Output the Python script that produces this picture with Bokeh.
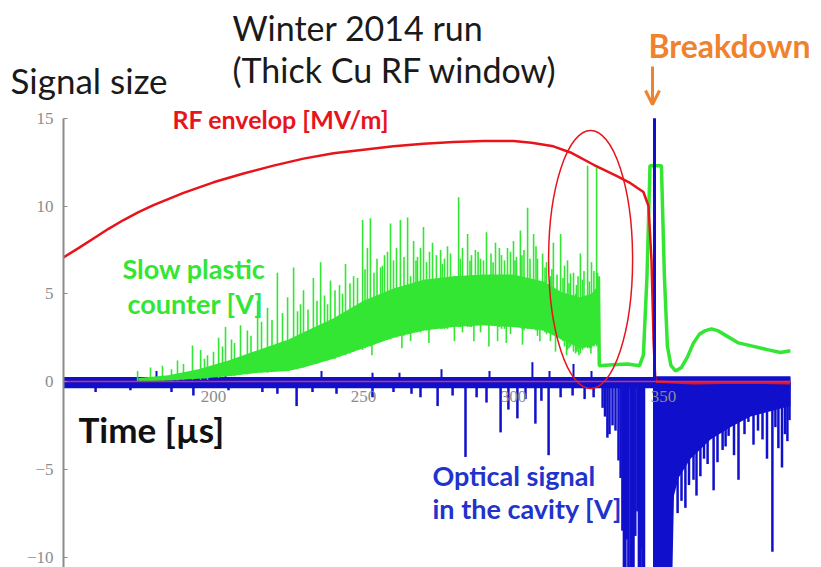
from bokeh.plotting import figure
from bokeh.models import Range1d, Label, Arrow, OpenHead, FixedTicker, LinearAxis
from bokeh.embed import file_html
from bokeh.resources import INLINE

# ---------------- data ----------------
# RF envelope [MV/m]
rf_t = [150, 155, 160, 165, 170, 175, 180, 190, 200, 210, 220, 230, 240, 250, 260,
        270, 280, 290, 300, 306, 313.3, 319, 326.7, 334, 339, 343.3, 345, 346,
        346.7, 347.3, 360, 375, 392.3]
rf_v = [7.07, 7.6, 8.15, 8.7, 9.2, 9.65, 10.05, 10.75, 11.35, 11.85, 12.3, 12.7,
        13.0, 13.2, 13.4, 13.55, 13.65, 13.7, 13.7, 13.6, 13.4, 13.05, 12.35, 11.75,
        11.3, 10.8, 10.0, 6.9, 2.3, 0.0, -0.1, -0.05, -0.1]

# Slow plastic counter [V]: dense core band
green_band_t = [175, 185, 195, 205, 215, 225, 230, 240, 250, 260, 270, 280, 290,
                300, 310, 316, 322, 326, 328.3]
green_band_lo = [0.0, 0.05, 0.15, 0.3, 0.5, 0.6, 0.8, 1.3, 1.9, 2.5, 2.9, 3.1, 3.2,
                 3.1, 2.9, 2.4, 1.9, 2.0, 2.2]
green_band_hi = [0.2, 0.35, 0.7, 1.2, 1.8, 2.4, 2.8, 3.6, 4.6, 5.3, 5.8, 6.0, 6.1,
                 6.1, 5.7, 5.1, 4.8, 5.0, 5.5]
# individual strokes (time, low, high)
green_stroke_t = [174.7, 179, 183, 186, 188, 190, 193, 195.7, 197, 198, 200, 201.7,
                  203, 204, 206, 207, 209, 211.3, 212.5, 214.7, 216, 218, 219.5,
                  221.3, 223, 224.7, 226.7, 228, 229, 230, 231.5, 233.3, 234.5,
                  235.7, 237, 238, 239, 240.5, 242, 243, 244, 245.5, 246.7, 248,
                  249.7, 250.5, 251.3, 252.3, 252.8, 253.5, 254.5, 255.7, 256.3, 257,
                  258, 259, 260, 261, 262.3, 262.8, 263.5, 264.7, 265.7, 266.7, 267.5,
                  268, 269, 270, 271, 271.8, 272, 273, 274.3, 275.7, 276.3, 277, 278,
                  279, 280.3, 281.7, 282.3, 283, 284.7, 285.5, 286, 286.8, 287.3,
                  288.2, 289, 290, 291, 291.8, 292.5, 293.2, 294, 294.7, 295.3, 296,
                  297, 297.6, 298, 299, 300, 300.5, 301, 302.3, 302.8, 303, 303.5,
                  304.7, 305.5, 306.7, 307.5, 308, 308.8, 309.7, 310.5, 311, 312.3,
                  312.8, 313.3, 314, 314.5, 315.7, 316.5, 317, 317.7, 318, 318.5, 319,
                  320, 320.7, 321, 321.5, 321.8, 322.3, 323, 323.5, 324.7, 325.3,
                  325.8, 326, 326.8, 327.7, 328]
green_stroke_lo = [0, 0, 0, 0.05, 0.05, 0.1, 0.1, 0.1, 0.15, 0.1, 0.25, 0.2,
                   0.3, 0.3, 0.3, 0.3, 0.4, 0.4, 0.45, 0.5, 0.5, 0.5, 0.55,
                   0.6, 0.6, 0.6, 0.7, 0.7, 0.8, 0.8, 0.9, 1.0, 1.0,
                   1.1, 1.2, 1.2, 1.3, 1.3, 1.4, 1.5, 1.5, 1.6, 1.7, 1.8,
                   1.8, 1.9, 2.0, 2.0, 1.5, 2.1, 2.2, 2.3, 2.3, 2.4,
                   2.4, 2.4, 2.5, 2.5, 2.6, 1.9, 2.6, 2.7, 2.3, 2.8, 2.8,
                   2.8, 2.8, 2.9, 2.9, 2.2, 2.9, 3.0, 3.0, 3.0, 3.0, 3.0, 3.0,
                   3.1, 2.3, 3.1, 3.1, 2.8, 3.1, 3.1, 3.1, 2.3, 3.2,
                   3.2, 2.8, 3.2, 3.2, 2.0, 3.2, 3.2, 3.2, 2.3, 3.1, 3.0,
                   3.0, 2.2, 3.2, 2.7, 3.1, 3.1, 3.1, 3.1, 3.0, 2.1, 2.9,
                   3.0, 3.0, 3.0, 2.9, 2.6, 2.3, 2.9, 2.8, 2.7, 2.3,
                   2.7, 2.7, 1.7, 2.5, 2.4, 2.3, 2.0, 1.5, 1.8, 1.9, 2.0,
                   1.7, 1.6, 1.7, 1.7, 1.5, 1.6, 1.8, 1.9, 1.9, 1.9,
                   1.6, 1.9, 2.0, 2.0, 2.1]
green_stroke_hi = [0.6, 0.8, 0.9, 0.7, 1.2, 1.0, 2.05, 1.8, 1.3, 1.5, 1.7, 2.5,
                   2.0, 3.1, 2.4, 2.2, 3.2, 2.9, 2.6, 4.6, 3.4, 4.2, 3.5,
                   6.2, 3.9, 4.8, 6.5, 4.0, 4.4, 5.2, 4.1, 5.9, 4.6,
                   6.8, 4.9, 4.4, 5.75, 5.2, 5.5, 5.0, 6.7, 5.6, 6.0, 5.9,
                   9.2, 6.4, 7.6, 9.3, 4.0, 6.2, 7.0, 6.5, 6.6, 7.2,
                   7.4, 9.0, 6.9, 7.6, 9.2, 4.5, 7.1, 9.35, 6.0, 8.0, 6.9,
                   7.1, 7.6, 8.8, 6.8, 5.0, 7.4, 7.9, 7.2, 7.5, 6.7, 7.0, 7.7,
                   7.3, 6.0, 10.5, 7.0, 7.6, 8.4, 6.9, 7.2, 5.0, 7.5,
                   7.4, 7.0, 6.9, 8.5, 4.8, 7.3, 6.8, 7.9, 6.0, 7.6, 7.2,
                   6.9, 5.0, 7.6, 7.4, 8.0, 6.9, 7.1, 8.6, 7.2, 5.0, 7.5,
                   9.9, 7.0, 8.4, 7.7, 7.0, 5.2, 7.3, 6.5, 6.8, 6.0,
                   6.4, 7.9, 4.5, 6.1, 8.4, 5.9, 6.6, 4.2, 6.9, 5.6, 6.15,
                   6.2, 5.0, 5.5, 6.0, 4.0, 7.3, 5.8, 6.3, 12.3, 5.7,
                   4.0, 6.8, 6.3, 12.2, 6.2]
# after the drop
green_tail_t = [328.3, 328.6, 333, 338, 342, 343.3, 344.5, 345.5, 349.3, 350.3, 351.3,
                352.5, 354, 356, 358, 360, 362, 364, 366, 368, 371, 375, 380, 385,
                389, 392.3]
green_tail_v = [6.0, 0.9, 0.95, 1.0, 0.9, 1.5, 6.0, 12.3, 12.3, 6.0, 2.0,
                0.9, 0.6, 0.8, 1.4, 2.2, 2.7, 2.9, 3.0, 2.9, 2.6, 2.2, 2.0, 1.8,
                1.65, 1.75]

# Optical signal in the cavity [V]
blue_base_t = [150, 392.3]
blue_base_lo = [-0.38, -0.38]
blue_base_hi = [0.25, 0.25]
blue_neg_t = [160.7, 172.3, 186, 193.3, 205, 216.3, 221.3, 227.7, 233, 241, 253, 260,
              266, 269, 274.7, 279.7, 284, 287.7, 291, 295.7, 298.3, 301.3, 304,
              307.3, 309.3, 311.7, 315.7, 319.7, 323.7, 326.7,
              329.7, 330.5, 331.3, 332, 333, 334, 335, 335.7, 336.3, 336.8, 337.3,
              337.8, 338.3, 339, 339.5, 340, 340.6, 341.3, 341.8, 342.3, 342.7, 343,
              343.5, 354.7, 356, 357.3, 358.5, 360, 361, 362.3, 363.5, 364.7, 366.7,
              368, 369.7, 370.7, 371.7, 373.5, 375, 377, 378.3, 380, 381.5, 383,
              384.5, 386.3, 387.3, 388.3, 389.5, 390.5, 391.3, 392]
blue_neg_v = [-0.6, -0.5, -0.6, -0.8, -0.5, -0.6, -0.7, -1.4, -0.6, -0.7, -0.9, -0.6,
              -0.7, -0.9, -1.4, -0.8, -4.3, -0.9, -1.2, -2.9, -1.6, -2.1, -1.0,
              -2.4, -1.1, -4.2, -0.9, -0.8, -1.0, -0.9,
              -1.5, -2.0, -3.2, -3.0, -2.5, -2.8, -4.5, -5.5, -8.5, -10.6, -10.6,
              -9.0, -10.6, -10.6, -10.6, -10.6, -8.8, -7.4, -10.6, -10.6, -9.5, -10.6,
              -10.6, -7.5, -6.8, -7.2, -5.9, -5.6, -6.5, -5.4, -4.4, -4.7, -6.2,
              -4.6, -3.9, -3.7, -3.1, -4.2, -5.6, -3.0, -2.3, -3.6, -2.8, -3.3,
              -4.4, -9.7, -2.6, -3.8, -4.9, -3.0, -3.4, -2.2]
blue_pos_t = [181, 204, 236, 253, 262, 276, 292, 306.3, 312, 320, 326]
blue_pos_v = [0.6, 0.5, 0.6, 0.5, 0.5, 0.7, 0.6, 1.1, 0.6, 1.0, 0.6]
blue_core_t = [347.0, 353.0, 353.5, 355, 359, 365.7, 372.3, 379, 385.7, 392.3]
blue_core_lo = [-10.6, -10.6, -6.5, -5.5, -4.4, -3.3, -2.6, -2.0, -1.7, -1.4]
blue_core_hi = [0.3, 0.3, 0.3, 0.3, 0.3, 0.3, 0.3, 0.3, 0.3, 0.3]
breakdown_t = [347.0]
breakdown_lo = [-10.6]
breakdown_hi = [15.0]

# highlighted region (ellipse): centre time, centre value, width, height
roi_t, roi_v, roi_w, roi_h = [325.7], [6.95], [28.0], [14.7]

y_ticks = [-10, -5, 0, 5, 10, 15]
x_ticks = [200, 250, 300, 350]

# ---------------- layout ----------------
W, H = 821, 567
PX_PER_US = 3.0
PX_PER_V = 17.55
X0_PX, X0_VAL = 63, 150
Y0_PX = 381

x_start = X0_VAL - X0_PX / PX_PER_US
x_end = x_start + W / PX_PER_US
y_end = Y0_PX / PX_PER_V
y_start = -(H - Y0_PX) / PX_PER_V


def X(px):
    return x_start + px / PX_PER_US


def Y(py):
    return (Y0_PX - py) / PX_PER_V


RED = "#e8141c"
GREEN = "#33e633"
BLUE = "#1010cc"
BLUE_TXT = "#2233cc"
ORANGE = "#f0822d"
FONT = "Lato"

p = figure(width=W, height=H, x_range=Range1d(x_start, x_end),
           y_range=Range1d(y_start, y_end), output_backend="svg",
           toolbar_location=None, min_border=0, x_axis_type=None, y_axis_type=None)
p.outline_line_color = None
p.background_fill_color = "white"

# blue trace
p.varea(x=blue_base_t, y1=blue_base_lo, y2=blue_base_hi, fill_color=BLUE)
p.segment(x0=blue_neg_t, y0=[0] * len(blue_neg_t), x1=blue_neg_t, y1=blue_neg_v,
          line_color=BLUE, line_width=2.5)
p.segment(x0=blue_pos_t, y0=[0] * len(blue_pos_t), x1=blue_pos_t, y1=blue_pos_v,
          line_color=BLUE, line_width=2)
p.varea(x=blue_core_t, y1=blue_core_lo, y2=blue_core_hi, fill_color=BLUE)

# green trace
p.varea(x=green_band_t, y1=green_band_lo, y2=green_band_hi, fill_color=GREEN)
p.segment(x0=green_stroke_t, y0=green_stroke_lo, x1=green_stroke_t, y1=green_stroke_hi,
          line_color=GREEN, line_width=1.6)
p.line(green_tail_t, green_tail_v, line_color=GREEN, line_width=3.5)

# red RF envelope
p.line(rf_t, rf_v, line_color=RED, line_width=2.5)

# breakdown spike on top
p.segment(x0=breakdown_t, y0=breakdown_lo, x1=breakdown_t, y1=breakdown_hi,
          line_color=BLUE, line_width=3)

p.ellipse(x=roi_t, y=roi_v, width=roi_w, height=roi_h, fill_color=None,
          line_color=RED, line_width=1.5)

# axes
yaxis = LinearAxis(fixed_location=150, bounds=(y_start, 15),
                   ticker=FixedTicker(ticks=y_ticks))
xaxis = LinearAxis(fixed_location=0, bounds=(150, 392.3),
                   ticker=FixedTicker(ticks=x_ticks))
for ax in (yaxis, xaxis):
    ax.major_tick_in = 4
    ax.major_tick_out = 0
    ax.minor_tick_in = 0
    ax.minor_tick_out = 0
    ax.major_label_text_font = "Liberation Serif"
    ax.major_label_text_font_size = "17px"
    ax.major_label_text_color = "#8c8c8c"
    ax.major_tick_line_color = "#8c8c8c"
yaxis.axis_line_color = "#8c8c8c"
yaxis.axis_line_width = 2
yaxis.major_label_standoff = 10
xaxis.axis_line_color = "#cc3366"
xaxis.axis_line_width = 1.5
xaxis.major_label_standoff = 9
xaxis.major_tick_line_color = None
p.add_layout(yaxis, "left")
p.add_layout(xaxis, "below")


# texts
def add_label(text, px, py, size, color, style="normal"):
    p.add_layout(Label(x=X(px), y=Y(py), text=text, text_font=FONT,
                       text_font_size=size, text_color=color, text_font_style=style,
                       text_baseline="middle", text_align="left"))


add_label("Winter 2014 run", 232, 27, "34px", "#1a1a1a")
add_label("(Thick Cu RF window)", 232, 69, "34px", "#1a1a1a")
add_label("Signal size", 10, 79, "35px", "#1a1a1a")
add_label("RF envelop [MV/m]", 172, 118, "25px", RED, "bold")
add_label("Breakdown", 648, 45, "32px", ORANGE, "bold")
add_label("Slow plastic", 122, 268, "27px", GREEN, "bold")
add_label("counter [V]", 127, 303, "27px", GREEN, "bold")
add_label("Time [µs]", 78, 428, "35px", "#111111", "bold")
add_label("Optical signal", 432, 475, "27px", BLUE_TXT, "bold")
add_label("in the cavity [V]", 432, 508, "27px", BLUE_TXT, "bold")

p.add_layout(Arrow(end=OpenHead(size=14, line_color=ORANGE, line_width=3),
                   x_start=X(652), y_start=Y(66), x_end=X(652), y_end=Y(104),
                   line_color=ORANGE, line_width=3))

open("out.html", "w").write(file_html(p, INLINE))
